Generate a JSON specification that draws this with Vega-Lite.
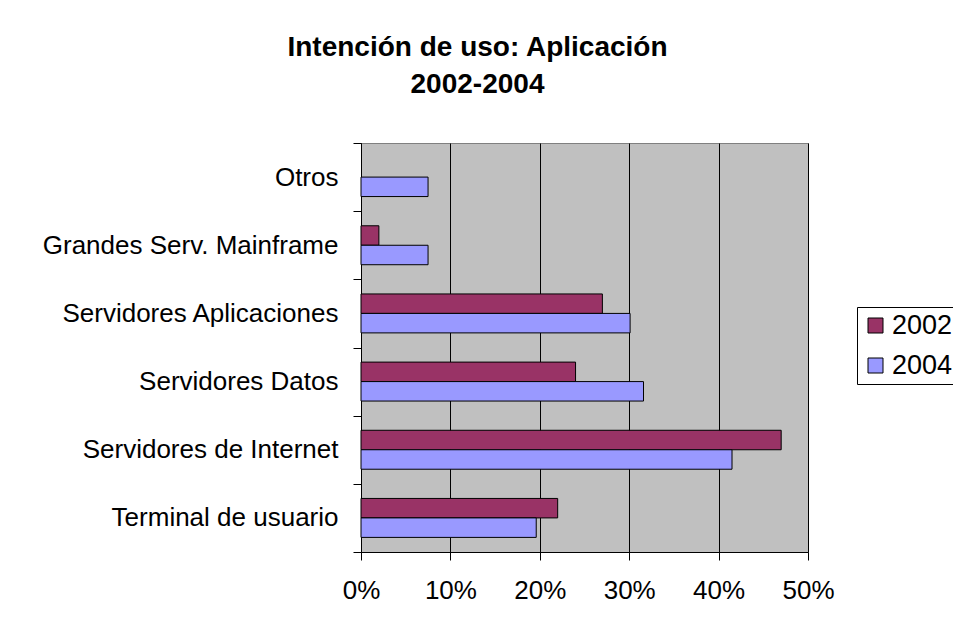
{
  "$schema": "https://vega.github.io/schema/vega-lite/v6.json",
  "autosize": "none",
  "width": 447,
  "height": 409,
  "padding": {"left": 361, "top": 143, "right": 145, "bottom": 80},
  "background": "white",
  "title": {
    "text": ["Intención de uso: Aplicación", "2002-2004"],
    "font": "Liberation Sans",
    "fontSize": 28,
    "fontWeight": "bold",
    "color": "black",
    "lineHeight": 37,
    "anchor": "middle",
    "dx": -107,
    "offset": 31
  },
  "data": {
    "values": [
      {"category": "Otros", "year": "2004", "value": 0.075},
      {"category": "Grandes Serv. Mainframe", "year": "2002", "value": 0.02},
      {"category": "Grandes Serv. Mainframe", "year": "2004", "value": 0.075},
      {"category": "Servidores Aplicaciones", "year": "2002", "value": 0.27},
      {"category": "Servidores Aplicaciones", "year": "2004", "value": 0.301},
      {"category": "Servidores Datos", "year": "2002", "value": 0.24},
      {"category": "Servidores Datos", "year": "2004", "value": 0.316},
      {"category": "Servidores de Internet", "year": "2002", "value": 0.47},
      {"category": "Servidores de Internet", "year": "2004", "value": 0.415},
      {"category": "Terminal de usuario", "year": "2002", "value": 0.22},
      {"category": "Terminal de usuario", "year": "2004", "value": 0.196}
    ]
  },
  "mark": {"type": "bar", "stroke": "black", "strokeWidth": 1},
  "encoding": {
    "y": {
      "field": "category",
      "type": "nominal",
      "sort": ["Otros", "Grandes Serv. Mainframe", "Servidores Aplicaciones", "Servidores Datos", "Servidores de Internet", "Terminal de usuario"],
      "scale": {"paddingInner": 0, "paddingOuter": 0},
      "axis": {
        "title": null,
        "tickBand": "extent",
        "tickSize": 8,
        "tickColor": "black",
        "domainColor": "black",
        "labelFontSize": 26,
        "labelFont": "Liberation Sans",
        "labelColor": "black",
        "labelPadding": 15,
        "labelLimit": 0,
        "grid": false
      }
    },
    "yOffset": {"field": "year", "type": "nominal", "sort": ["2002", "2004"], "scale": {"paddingInner": 0, "paddingOuter": 0.75}},
    "x": {
      "field": "value",
      "type": "quantitative",
      "scale": {"domain": [0, 0.5], "nice": false},
      "axis": {
        "title": null,
        "format": ".0%",
        "values": [0, 0.1, 0.2, 0.3, 0.4, 0.5],
        "tickSize": 8,
        "tickColor": "black",
        "domainColor": "black",
        "grid": true,
        "gridColor": "black",
        "gridOpacity": 1,
        "labelFontSize": 26,
        "labelFont": "Liberation Sans",
        "labelColor": "black",
        "labelPadding": 17,
        "labelFlush": false
      }
    },
    "color": {
      "field": "year",
      "type": "nominal",
      "scale": {"domain": ["2002", "2004"], "range": ["#993366", "#9999FF"]},
      "legend": {
        "title": null,
        "orient": "none",
        "legendX": 496,
        "legendY": 164,
        "symbolType": "square",
        "symbolSize": 225,
        "symbolStrokeColor": "black",
        "symbolStrokeWidth": 1,
        "symbolOpacity": 1,
        "labelFontSize": 27,
        "labelFont": "Liberation Sans",
        "labelColor": "black",
        "labelOffset": 3,
        "labelLimit": 0,
        "rowPadding": 12,
        "padding": 5,
        "strokeColor": "black",
        "fillColor": "white"
      }
    }
  },
  "config": {
    "view": {"fill": "#C0C0C0", "stroke": "#808080", "strokeWidth": 1},
    "axis": {"domainWidth": 1, "tickWidth": 1}
  }
}
